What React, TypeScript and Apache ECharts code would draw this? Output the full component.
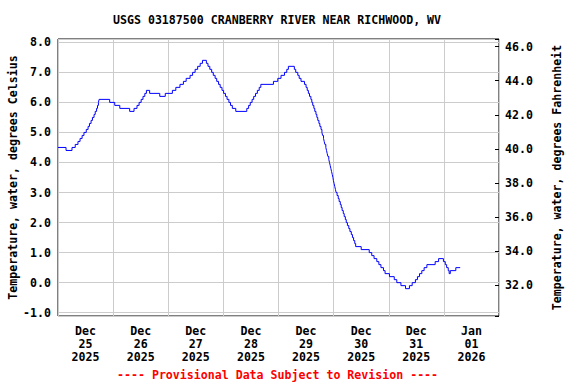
import React, { useEffect, useRef } from 'react';
import * as echarts from 'echarts';

// hours since Dec 25 2025 00:00 at which the reading changes
const hours = [
  0, 3.5, 6.1, 7.5, 8.7, 9.6, 10.5, 11.3, 12.3, 13.1, 13.7, 14.4, 15.0, 15.7, 16.2, 16.8, 17.2, 17.6, 17.9,
  22.5, 24.7, 26.9, 31.2, 33.1, 34.4, 35.3, 36.2, 37.0, 37.8, 38.5, 39.9, 44.3, 46.7,
  49.8, 51.3, 53.1, 54.6, 55.8, 57.5, 58.6, 59.7, 60.8, 61.9, 62.9,
  64.6, 65.3, 66.1, 66.9, 67.6, 68.4, 69.1, 69.9, 70.6, 71.4, 72.1, 72.9, 73.6, 74.4, 75.1, 75.9, 77.4,
  82.2, 83.0, 83.7, 84.5, 85.2, 86.0, 86.8, 87.6, 88.3,
  93.8, 95.7, 97.1, 98.6, 99.6, 100.3,
  102.9, 103.5, 104.4, 105.0, 105.8, 107.3, 108.0, 108.5, 109.0, 109.5, 110.1, 110.5,
  110.9, 111.4, 111.8, 112.3, 112.7, 113.1, 113.6, 114.0, 114.5, 114.9,
  115.2, 115.6, 115.9, 116.2, 116.6, 116.9, 117.2, 117.5, 117.9, 118.2,
  118.5, 118.8, 119.1, 119.4, 119.7, 119.9, 120.2, 120.5, 120.8, 121.1,
  121.5, 122.0, 122.4, 122.9, 123.3, 123.7, 124.2, 124.6, 125.1, 125.5,
  126.0, 126.6, 127.1, 127.7, 128.2, 128.7, 129.2, 129.6,
  132.0, 135.5, 136.6, 137.6, 138.8, 139.7, 140.6, 141.7, 142.4, 144.3, 146.4, 147.5, 149.3, 151.3,
  153.0, 154.2, 155.6, 156.5, 157.4, 158.4, 159.4, 160.6, 164.2, 165.7,
  167.8, 168.6, 169.2, 169.9, 170.3, 170.8, 173.2, 175.1,
];

// water temperature, degrees Celsius
const tempC = [
  4.5, 4.4, 4.5, 4.6, 4.7, 4.8, 4.9, 5.0, 5.1, 5.2, 5.3, 5.4, 5.5, 5.6, 5.7, 5.8, 5.9, 6.0, 6.1,
  6.0, 5.9, 5.8, 5.7, 5.8, 5.9, 6.0, 6.1, 6.2, 6.3, 6.4, 6.3, 6.2, 6.3,
  6.4, 6.5, 6.6, 6.7, 6.8, 6.9, 7.0, 7.1, 7.2, 7.3, 7.4,
  7.3, 7.2, 7.1, 7.0, 6.9, 6.8, 6.7, 6.6, 6.5, 6.4, 6.3, 6.2, 6.1, 6.0, 5.9, 5.8, 5.7,
  5.8, 5.9, 6.0, 6.1, 6.2, 6.3, 6.4, 6.5, 6.6,
  6.7, 6.8, 6.9, 7.0, 7.1, 7.2,
  7.1, 7.0, 6.9, 6.8, 6.7, 6.6, 6.5, 6.4, 6.3, 6.2, 6.1, 6.0,
  5.9, 5.8, 5.7, 5.6, 5.5, 5.4, 5.3, 5.2, 5.1, 5.0,
  4.9, 4.8, 4.7, 4.6, 4.5, 4.4, 4.3, 4.2, 4.1, 4.0,
  3.9, 3.8, 3.7, 3.6, 3.5, 3.4, 3.3, 3.2, 3.1, 3.0,
  2.9, 2.8, 2.7, 2.6, 2.5, 2.4, 2.3, 2.2, 2.1, 2.0,
  1.9, 1.8, 1.7, 1.6, 1.5, 1.4, 1.3, 1.2,
  1.1, 1.0, 0.9, 0.8, 0.7, 0.6, 0.5, 0.4, 0.3, 0.2, 0.1, 0.0, -0.1, -0.2,
  -0.1, 0.0, 0.1, 0.2, 0.3, 0.4, 0.5, 0.6, 0.7, 0.8,
  0.7, 0.6, 0.5, 0.4, 0.3, 0.4, 0.5, 0.5,
];

const dayMonth = ['Dec', 'Dec', 'Dec', 'Dec', 'Dec', 'Dec', 'Dec', 'Jan'];
const dayNum = ['25', '26', '27', '28', '29', '30', '31', '01'];
const dayYear = ['2025', '2025', '2025', '2025', '2025', '2025', '2025', '2026'];

const titleText = 'USGS 03187500 CRANBERRY RIVER NEAR RICHWOOD, WV';
const footerText = '---- Provisional Data Subject to Revision ----';
const leftName = 'Temperature, water, degrees Celsius';
const rightName = 'Temperature, water, degrees Fahrenheit';

const FONT = '"DejaVu Sans Mono", monospace';
const FS = 11.6;
const txt = { fontFamily: FONT, fontSize: FS, fontWeight: 'bold' as const, color: '#000' };

export default function App() {
  const ref = useRef<HTMLDivElement>(null);
  useEffect(() => {
    if (!ref.current) return;
    const chart = echarts.init(ref.current, null, { renderer: 'svg' });
    const onStep = (v: number, step: number) => Math.abs(v / step - Math.round(v / step)) < 1e-6;
    const categories = dayMonth.map((m, i) => `${m}\n${dayNum[i]}\n${dayYear[i]}`);
    chart.setOption({
      animation: false,
      backgroundColor: '#ffffff',
      title: {
        text: titleText,
        left: 113,
        top: 14,
        padding: 0,
        textStyle: { ...txt },
      },
      graphic: [
        {
          type: 'text',
          left: 117,
          top: 369,
          style: { text: footerText, fill: '#ff0000', font: `bold ${FS}px ${FONT}` },
        },
      ],
      grid: {
        left: 58,
        right: 77,
        top: 39,
        bottom: 68,
        show: true,
        borderColor: '#000',
        borderWidth: 1,
        backgroundColor: 'transparent',
        containLabel: false,
        outerBoundsMode: 'none',
      },
      xAxis: [
        {
          type: 'value',
          position: 'bottom',
          min: 0,
          max: 192,
          interval: 24,
          axisLine: { show: false },
          axisTick: { show: false },
          axisLabel: { show: false },
          splitLine: { show: true, lineStyle: { color: '#cccccc', width: 1 } },
        },
        {
          type: 'category',
          position: 'bottom',
          data: categories,
          boundaryGap: true,
          axisLine: { show: false },
          axisTick: { show: false },
          splitLine: { show: false },
          axisLabel: { ...txt, lineHeight: 13, margin: 8, interval: 0 },
        },
      ],
      yAxis: [
        {
          type: 'value',
          position: 'left',
          min: -1.11,
          max: 8.11,
          splitNumber: 9,
          axisLine: { show: false },
          axisTick: { show: false },
          splitLine: { show: true, lineStyle: { color: '#cccccc', width: 1 } },
          axisLabel: {
            ...txt,
            margin: 7,
            formatter: (v: number) => (onStep(v, 1) ? v.toFixed(1) : ''),
          },
          name: leftName,
          nameLocation: 'middle',
          nameRotate: 90,
          nameGap: 39,
          nameMoveOverlap: false,
          nameTextStyle: { ...txt },
        },
        {
          type: 'value',
          position: 'right',
          min: 30.18,
          max: 46.45,
          splitNumber: 8,
          axisLine: { show: false },
          axisTick: { show: true, inside: true, length: 4, lineStyle: { color: '#000', width: 1 } },
          splitLine: { show: false },
          axisLabel: {
            ...txt,
            margin: 6,
            formatter: (v: number) => (onStep(v, 2) ? v.toFixed(1) : ''),
          },
          name: rightName,
          nameLocation: 'middle',
          nameRotate: 90,
          nameGap: 52,
          nameMoveOverlap: false,
          nameTextStyle: { ...txt },
        },
      ],
      series: [
        {
          type: 'line',
          xAxisIndex: 0,
          yAxisIndex: 0,
          data: hours.map((h, i) => [h, tempC[i]]),
          step: 'end',
          showSymbol: false,
          symbol: 'none',
          silent: true,
          lineStyle: { color: '#0000ff', width: 1 },
        },
      ],
    });
    return () => chart.dispose();
  }, []);
  return (
    <div
      ref={ref}
      style={{ position: 'absolute', left: 0, top: 0, width: 576, height: 384, background: '#fff' }}
    />
  );
}
